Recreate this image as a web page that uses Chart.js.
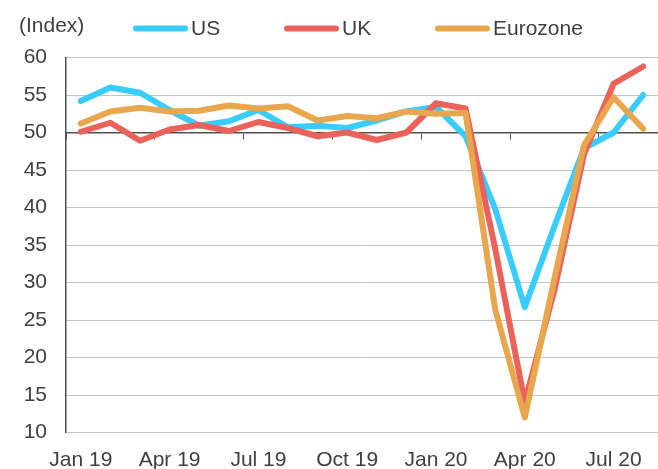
<!DOCTYPE html>
<html>
<head>
<meta charset="utf-8">
<script src="https://cdn.jsdelivr.net/npm/chart.js@4.4.0/dist/chart.umd.min.js"></script>
<style>
html,body{margin:0;padding:0;background:#ffffff;}
#wrap{width:658px;height:469px;}
</style>
</head>
<body>
<div id="wrap"><canvas id="c" width="658" height="469"></canvas></div>
<script>
// ---- Data ----
const categories = ['Jan 19','Feb 19','Mar 19','Apr 19','May 19','Jun 19','Jul 19','Aug 19','Sep 19','Oct 19','Nov 19','Dec 19',
                    'Jan 20','Feb 20','Mar 20','Apr 20','May 20','Jun 20','Jul 20','Aug 20'];
const tickLabels = ['Jan 19','Apr 19','Jul 19','Oct 19','Jan 20','Apr 20','Jul 20'];
const usValues       = [54.2, 56.0, 55.3, 53.0, 50.9, 51.5, 53.0, 50.7, 50.9, 50.6, 51.6, 52.8, 53.4, 49.5, 39.8, 26.7, 37.5, 47.9, 50.0, 55.0];
const ukValues       = [50.1, 51.3, 48.9, 50.4, 51.0, 50.2, 51.4, 50.6, 49.5, 50.0, 49.0, 50.0, 53.9, 53.2, 34.5, 14.0, 29.0, 47.1, 56.5, 58.8];
const eurozoneValues = [51.2, 52.8, 53.3, 52.8, 52.9, 53.6, 53.2, 53.5, 51.6, 52.2, 51.9, 52.8, 52.5, 52.6, 26.4, 12.0, 30.5, 48.3, 54.7, 50.5];
const seriesNames = ['US', 'UK', 'Eurozone'];
const unitLabel = '(Index)';
const yMin = 10, yMax = 60, yStep = 5, axisCross = 50;

// ---- Styles ----
const FONT = '"Liberation Sans", Arial, sans-serif';
const TEXT = '#404040';
const AXIS = '#505050';
const GRID = '#c3c3c3';
const colors = ['#38CCFF', '#EA625A', '#E8A64D'];

Chart.defaults.font.family = FONT;
Chart.defaults.font.size = 21;
Chart.defaults.color = TEXT;

const headerPlugin = {
  id: 'header',
  afterDraw(chart, args, opts) {
    const ctx = chart.ctx;
    ctx.save();
    ctx.font = '21px ' + FONT;
    ctx.fillStyle = TEXT;
    ctx.textAlign = 'left';
    ctx.textBaseline = 'alphabetic';
    ctx.fillText(unitLabel, opts.unitX, opts.unitY);
    chart.data.datasets.forEach((ds, i) => {
      const x = opts.start + i * opts.step;
      ctx.strokeStyle = ds.borderColor;
      ctx.lineWidth = 6;
      ctx.lineCap = 'round';
      ctx.beginPath();
      ctx.moveTo(x, opts.lineY);
      ctx.lineTo(x + opts.len, opts.lineY);
      ctx.stroke();
      ctx.fillStyle = TEXT;
      ctx.fillText(ds.label, x + opts.len + 6, opts.textY);
    });
    ctx.restore();
  }
};

const seriesValues = [usValues, ukValues, eurozoneValues];
const datasets = seriesNames.map((name, i) => ({
  label: name,
  data: seriesValues[i],
  borderColor: colors[i],
  backgroundColor: colors[i],
  borderWidth: 6,
  borderCapStyle: 'round',
  borderJoinStyle: 'round',
  pointRadius: 0,
  pointHoverRadius: 0,
  tension: 0,
  fill: false,
  order: 3 - i,
  xAxisID: 'x',
  yAxisID: 'y'
}));

new Chart(document.getElementById('c'), {
  type: 'line',
  data: { labels: categories, datasets },
  plugins: [headerPlugin],
  options: {
    responsive: false,
    animation: false,
    layout: { padding: { top: 57.5, left: 0, right: 0, bottom: 0 } },
    plugins: {
      legend: { display: false },
      tooltip: { enabled: false },
      header: { unitX: 19, unitY: 32, start: 136, step: 151, len: 49, lineY: 28.5, textY: 35 }
    },
    scales: {
      x: {
        type: 'category',
        position: 'bottom',
        offset: true,
        grid: { display: false },
        border: { display: false },
        ticks: {
          autoSkip: false, maxRotation: 0, minRotation: 0, padding: 7,
          callback: (v, i) => tickLabels.includes(categories[i]) ? categories[i] : ''
        },
        afterFit: (s) => { s.height = 36.5; }
      },
      xCross: {
        type: 'category',
        position: { y: axisCross },
        offset: true,
        grid: {
          display: true, drawOnChartArea: false, drawTicks: true, tickLength: 6, offset: true, lineWidth: 1,
          color: (c) => (c.index !== undefined && tickLabels.includes(categories[c.index])) ? AXIS : 'rgba(0,0,0,0)'
        },
        border: { display: true, color: AXIS, width: 1.5 },
        ticks: { display: false, autoSkip: false }
      },
      y: {
        min: yMin, max: yMax,
        ticks: { stepSize: yStep, padding: 19 },
        grid: { color: GRID, lineWidth: 1, drawTicks: false },
        border: { display: true, color: AXIS, width: 1.5 },
        afterFit: (s) => { s.width = 66; }
      }
    }
  }
});
</script>
</body>
</html>
